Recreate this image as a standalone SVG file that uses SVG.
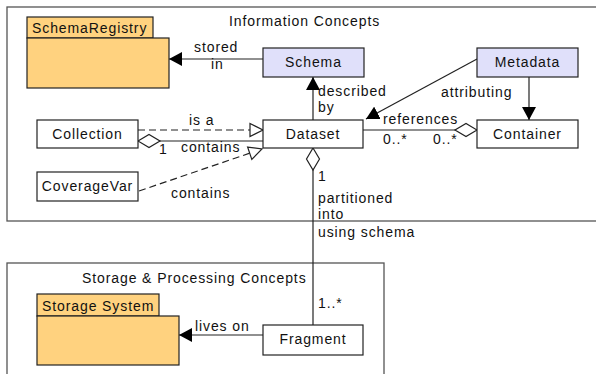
<svg xmlns="http://www.w3.org/2000/svg" width="596" height="374" viewBox="0 0 596 374">
<style>
text{font-family:"Liberation Sans",Arial,sans-serif;font-size:14px;fill:#111;letter-spacing:0.9px}
.c{text-anchor:middle}
.frame{fill:none;stroke:#555;stroke-width:1.3}
.box{fill:#fff;stroke:#222;stroke-width:1.2}
.lav{fill:#e0e0fa;stroke:#222;stroke-width:1.2}
.pkg{fill:#ffd27f;stroke:#222;stroke-width:1.2}
.ln{fill:none;stroke:#222;stroke-width:1.2}
.dash{stroke-dasharray:7 4}
</style>
<defs>
<marker id="arr" markerUnits="userSpaceOnUse" markerWidth="14" markerHeight="14" refX="13" refY="7" orient="auto"><path d="M0,0 L13,7 L0,14 z" fill="#000"/></marker>
<marker id="tri" markerUnits="userSpaceOnUse" markerWidth="16" markerHeight="16" refX="14" refY="8" orient="auto"><path d="M1,1.5 L14,8 L1,14.5 z" fill="#fff" stroke="#222" stroke-width="1.2"/></marker>
<marker id="dia" markerUnits="userSpaceOnUse" markerWidth="26" markerHeight="16" refX="1" refY="8" orient="auto"><path d="M1,8 L12,1.5 L23,8 L12,14.5 z" fill="#fff" stroke="#222" stroke-width="1.2"/></marker>
</defs>
<g id="frame-info"><rect class="frame" x="7" y="7" width="600" height="214"/><text x="229" y="26">Information Concepts</text></g>
<g id="frame-storage"><rect class="frame" x="7" y="263" width="377" height="120"/><text x="82" y="283">Storage &amp; Processing Concepts</text></g>
<g id="connectors">
<line class="ln" x1="263" y1="59" x2="169" y2="59" marker-end="url(#arr)"/>
<line class="ln" x1="313" y1="120" x2="313" y2="77" marker-end="url(#arr)"/>
<line class="ln" x1="477" y1="59" x2="366" y2="119" marker-end="url(#arr)"/>
<line class="ln" x1="529" y1="77" x2="529" y2="120" marker-end="url(#arr)"/>
<line class="ln dash" x1="138" y1="130" x2="263" y2="130" marker-end="url(#tri)"/>
<line class="ln" x1="138" y1="141" x2="263" y2="141" marker-start="url(#dia)"/>
<line class="ln dash" x1="139" y1="191" x2="262" y2="149" marker-end="url(#tri)"/>
<line class="ln" x1="477" y1="130" x2="363" y2="130" marker-start="url(#dia)"/>
<line class="ln" x1="313" y1="148" x2="313" y2="325" marker-start="url(#dia)"/>
<line class="ln" x1="263" y1="335" x2="179" y2="335" marker-end="url(#arr)"/>
<text x="194" y="52">stored</text><text x="211" y="69">in</text>
<text x="318" y="96">described</text><text x="318" y="112">by</text>
<text x="441" y="97">attributing</text>
<text x="189" y="125">is a</text>
<text x="181" y="152">contains</text>
<text x="159" y="154">1</text>
<text x="383" y="124">references</text>
<text x="383" y="144">0..*</text><text x="433" y="144">0..*</text>
<text x="171" y="198">contains</text>
<text x="318" y="181">1</text>
<text x="318" y="203">partitioned</text><text x="318" y="219">into</text><text x="318" y="237">using schema</text>
<text x="318" y="308">1..*</text>
<text x="195" y="331">lives on</text>
</g>
<g id="SchemaRegistry"><rect class="pkg" x="27" y="17" width="126" height="21"/><rect class="pkg" x="27" y="38" width="142" height="50"/><text x="32" y="33">SchemaRegistry</text></g>
<g id="Schema"><rect class="lav" x="263" y="48" width="101" height="29"/><text class="c" x="313.5" y="67">Schema</text></g>
<g id="Metadata"><rect class="lav" x="477" y="48" width="101" height="29"/><text class="c" x="527.5" y="67">Metadata</text></g>
<g id="Collection"><rect class="box" x="37" y="120" width="101" height="28"/><text class="c" x="87.5" y="139">Collection</text></g>
<g id="Dataset"><rect class="box" x="263" y="120" width="100" height="28"/><text class="c" x="313" y="139">Dataset</text></g>
<g id="Container"><rect class="box" x="477" y="120" width="101" height="28"/><text class="c" x="527.5" y="139">Container</text></g>
<g id="CoverageVar"><rect class="box" x="37" y="172" width="101" height="29"/><text class="c" x="87.5" y="191">CoverageVar</text></g>
<g id="StorageSystem"><rect class="pkg" x="37" y="294" width="122" height="22"/><rect class="pkg" x="37" y="316" width="142" height="49"/><text x="42" y="311">Storage System</text></g>
<g id="Fragment"><rect class="box" x="263" y="325" width="100" height="30"/><text class="c" x="313" y="344">Fragment</text></g>
</svg>
